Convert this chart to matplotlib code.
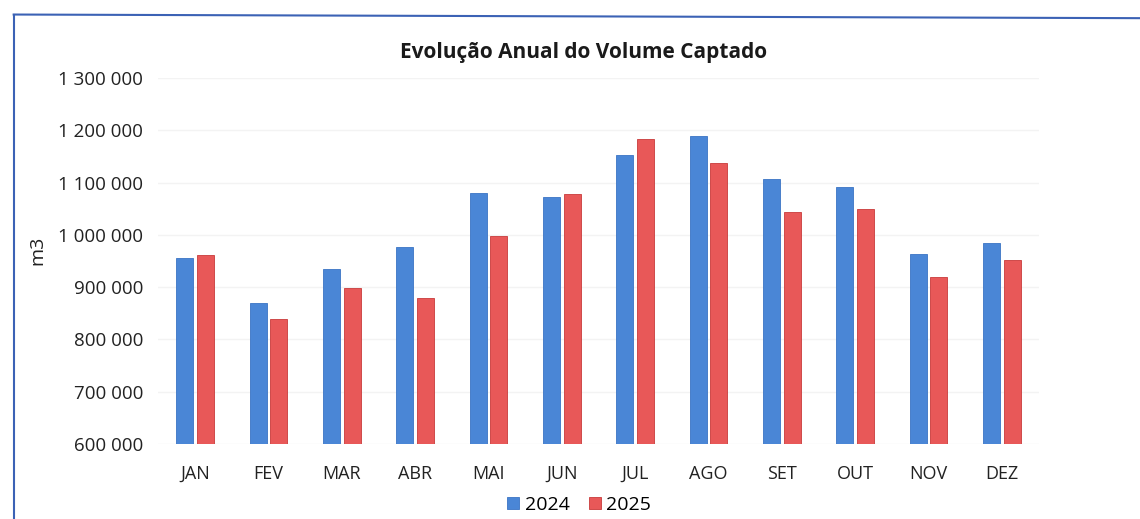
import numpy as np
import matplotlib
matplotlib.use('Agg')
import matplotlib.pyplot as plt
from matplotlib.lines import Line2D
from matplotlib.ticker import FuncFormatter

# Monthly captured volume (m3)
months = ['JAN', 'FEV', 'MAR', 'ABR', 'MAI', 'JUN', 'JUL', 'AGO', 'SET', 'OUT', 'NOV', 'DEZ']
vol_2024 = [955000, 870000, 935000, 977000, 1080000, 1072000,
            1153000, 1189000, 1107000, 1091000, 963000, 984000]
vol_2025 = [961000, 839000, 898000, 879000, 998000, 1078000,
            1183000, 1137000, 1044000, 1049000, 919000, 952000]
series_labels = ['2024', '2025']

blue = '#4a86d6'
red = '#e85858'

plt.rcParams['font.family'] = ['Open Sans', 'DejaVu Sans']

fig = plt.figure(figsize=(11.4, 5.19), dpi=100)
ax = fig.add_axes([0.139, 0.1445, 0.772, 0.705])

x = np.arange(len(months))
w = 0.23
ax.bar(x - 0.14, vol_2024, w, color=blue, edgecolor='#3a74c4', lw=0.6,
       label=series_labels[0], zorder=3)
ax.bar(x + 0.14, vol_2025, w, color=red, edgecolor='#c83a3a', lw=0.6,
       label=series_labels[1], zorder=3)

ax.set_xlim(-0.5, 11.5)
ax.set_ylim(600000, 1300000)
ax.set_yticks(np.arange(600000, 1300001, 100000))
ax.yaxis.set_major_formatter(FuncFormatter(lambda v, p: f'{int(v):,}'.replace(',', ' ')))
ax.set_xticks(x)
ax.set_xticklabels(months)
ax.tick_params(axis='both', length=0, colors='#222222')
ax.tick_params(axis='y', pad=11, labelsize=13.5)
ax.tick_params(axis='x', pad=15, labelsize=13)
ax.grid(axis='y', color='#f3f3f3', lw=1, zorder=0)
for s in ax.spines.values():
    s.set_visible(False)

ax.set_ylabel('m3', fontsize=14, color='#222222')
ax.yaxis.set_label_coords(-0.127, 0.53)

fig.text(0.512, 0.898, 'Evolução Anual do Volume Captado', ha='center', va='center',
         fontsize=15, fontweight='bold', color='#1a1a1a')

fig.legend(loc='center', bbox_to_anchor=(0.508, 0.027), ncol=2, frameon=False,
           fontsize=14, handlelength=0.6, handleheight=0.6, handletextpad=0.3,
           columnspacing=1.0)

# scanned frame edges
fig.add_artist(Line2D([0.012, 0.012], [0.0, 0.972], color='#3b62b5', lw=1.5))
fig.add_artist(Line2D([0.012, 1.0], [0.972, 0.965], color='#3b62b5', lw=1.5))

fig.savefig('out.png', dpi=100)
